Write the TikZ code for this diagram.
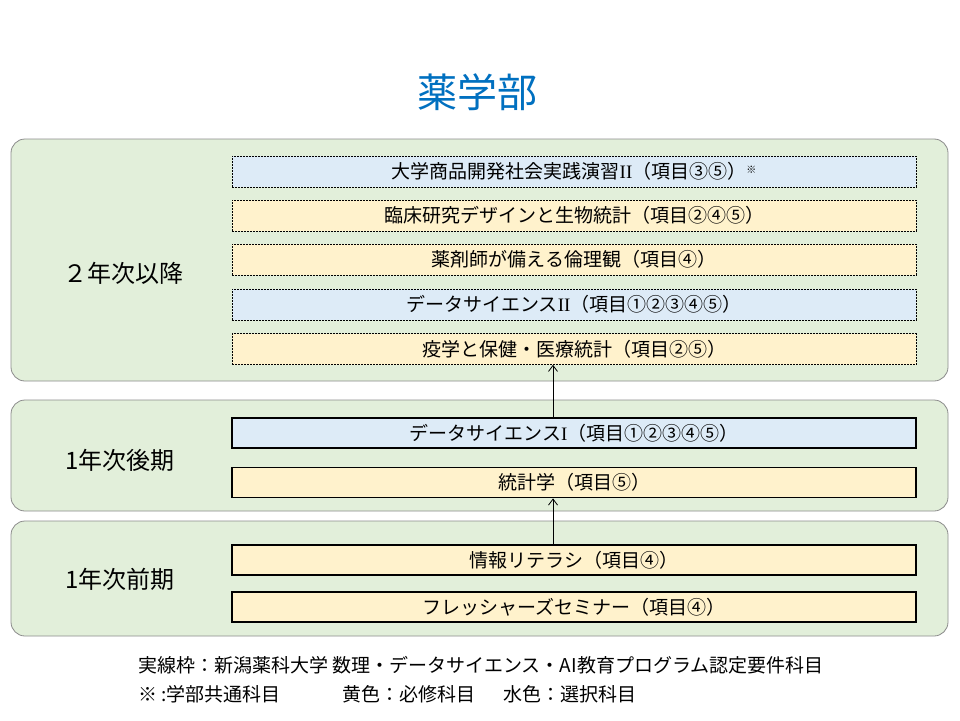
\documentclass[tikz,border=0pt]{standalone}
\usepackage{fontspec}
\setmainfont{Noto Sans CJK JP}
\newfontfamily\latinserif{Liberation Serif}
\usetikzlibrary{arrows.meta}
\definecolor{titleblue}{RGB}{0,112,192}
\definecolor{panelgreen}{RGB}{226,239,218}
\definecolor{panelline}{RGB}{140,140,140}
\definecolor{boxyellow}{RGB}{255,242,204}
\definecolor{boxblue}{RGB}{221,235,247}
\newcommand{\rnum}[1]{{\latinserif #1}}

\begin{document}
\begin{tikzpicture}[x=1pt,y=-1pt,
    panel/.style={draw=panelline,fill=panelgreen,rounded corners=14pt,line width=0.8pt,minimum width=937pt,inner sep=0pt},
    course/.style={minimum width=684pt,minimum height=31pt,inner sep=0pt,font=\fontsize{19}{22}\selectfont},
    yellowbox/.style={course,fill=boxyellow},
    bluebox/.style={course,fill=boxblue},
    solidframe/.style={draw=black,line width=1.8pt,minimum height=30pt},
    dashframe/.style={draw=black,line width=0.6pt,dash pattern=on 2pt off 1pt},
    term/.style={font=\fontsize{24}{27}\selectfont},
    note/.style={anchor=west,inner sep=0pt,font=\fontsize{19}{21}\selectfont},
    arr/.style={-{Straight Barb[length=6pt,width=9pt]},line width=0.8pt}
    ]
  \fill[white] (0,0) rectangle (960,720);
  \useasboundingbox (0,0) rectangle (960,720);

  \node[text=titleblue,font=\fontsize{40}{44}\selectfont] (title) at (477,92) {薬学部};

  % panels
  \node[panel,minimum height=242pt] (later) at (479.5,260) {};
  \node[panel,minimum height=111pt] (second) at (479.5,455.5) {};
  \node[panel,minimum height=115pt] (first) at (479.5,578.5) {};

  \node[term] (laterlbl) at (123,273) {２年次以降};
  \node[term] (secondlbl) at (120,460) {1年次後期};
  \node[term] (firstlbl) at (120,579) {1年次前期};

  % 2nd year and later
  \node[bluebox,dashframe] (shohin) at (574,171.5) {大学商品開発社会実践演習\rnum{II}（項目③⑤）\raisebox{5pt}{\fontsize{10}{10}\selectfont ※}};
  \node[yellowbox,dashframe] (rinsho) at (574,215.5) {臨床研究デザインと生物統計（項目②④⑤）};
  \node[yellowbox,dashframe] (rinri) at (574,259.5) {薬剤師が備える倫理観（項目④）};
  \node[bluebox,dashframe] (dstwo) at (574,304.5) {データサイエンス\rnum{II}（項目①②③④⑤）};
  \node[yellowbox,dashframe] (ekigaku) at (574,349) {疫学と保健・医療統計（項目②⑤）};

  % 1st year, 2nd half
  \node[bluebox,solidframe] (dsone) at (574,433) {データサイエンス\rnum{I}（項目①②③④⑤）};
  \node[yellowbox,solidframe] (tokei) at (574,482.5) {統計学（項目⑤）};

  % 1st year, 1st half
  \node[yellowbox,solidframe] (joho) at (574,560) {情報リテラシ（項目④）};
  \node[yellowbox,solidframe] (fresh) at (574,607) {フレッシャーズセミナー（項目④）};

  \draw[arr] ([xshift=-21pt]dsone.north) -- ([xshift=-21pt]ekigaku.south);
  \draw[arr] ([xshift=-21pt]joho.north) -- ([xshift=-21pt]tokei.south);

  % notes
  \node[note] (note1) at (138,665) {実線枠：新潟薬科大学 数理・データサイエンス・AI教育プログラム認定要件科目};
  \node[note] (note2) at (138,694) {※ :学部共通科目};
  \node[note] (note3) at (342,694) {黄色：必修科目};
  \node[note] (note4) at (503,694) {水色：選択科目};
\end{tikzpicture}
\end{document}
